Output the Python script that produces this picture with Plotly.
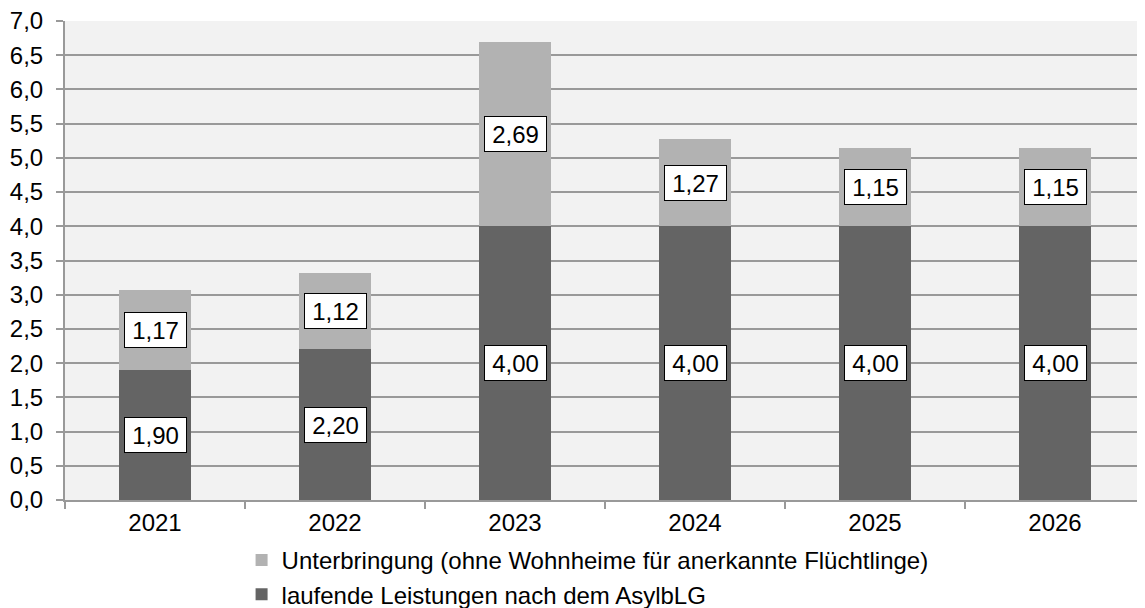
import plotly.graph_objects as go

years = ["2021", "2022", "2023", "2024", "2025", "2026"]
laufende = [1.90, 2.20, 4.00, 4.00, 4.00, 4.00]
unterbringung = [1.17, 1.12, 2.69, 1.27, 1.15, 1.15]
name_laufende = "laufende Leistungen nach dem AsylbLG"
name_unterbringung = "Unterbringung (ohne Wohnheime für anerkannte Flüchtlinge)"

DARK = "#646464"
LIGHT = "#b2b2b2"
GRID = "#999999"
FONT = "Liberation Sans, Arial, sans-serif"
FS = 24

def fmt(v):
    return f"{v:.2f}".replace(".", ",")

fig = go.Figure()
fig.add_trace(go.Bar(x=years, y=laufende, name=name_laufende, legendgroup="a",
                     marker=dict(color=DARK, line=dict(width=0))))
fig.add_trace(go.Bar(x=years, y=unterbringung, name=name_unterbringung, legendgroup="b",
                     marker=dict(color=LIGHT, line=dict(width=0))))

annotations = []
for i, (a, b) in enumerate(zip(laufende, unterbringung)):
    for val, center in ((a, a / 2), (b, a + b / 2)):
        annotations.append(dict(
            x=i, y=center, xref="x", yref="y", text=fmt(val), showarrow=False,
            font=dict(family=FONT, size=FS, color="black"),
            bgcolor="white", bordercolor="black", borderwidth=1, borderpad=1,
            width=59, height=32))

fig.update_layout(
    width=1145, height=608,
    barmode="stack", bargap=0.6,
    paper_bgcolor="white", plot_bgcolor="#f2f2f2",
    margin=dict(l=57, r=8, t=13, b=116, autoexpand=False),
    font=dict(family=FONT, size=FS, color="black"),
    separators=",.",
    showlegend=True,
    legend=dict(orientation="v", traceorder="reversed", x=0.1635, y=-0.079,
                xanchor="left", yanchor="top", bgcolor="rgba(0,0,0,0)",
                tracegroupgap=3,
                font=dict(family=FONT, size=FS, color="black")),
    annotations=annotations,
)
fig.update_xaxes(type="category", range=[-0.5, 5.5], showgrid=False, showline=True,
                 linecolor=GRID, linewidth=2, ticks="outside", tickson="boundaries",
                 ticklen=7, tickcolor=GRID, tickwidth=2, tickangle=0, automargin=False,
                 tickfont=dict(family=FONT, size=FS, color="black"))
fig.update_yaxes(range=[0, 7], dtick=0.5, tick0=0, tickformat=".1f",
                 showgrid=True, gridcolor=GRID, gridwidth=2, zeroline=False,
                 showline=True, linecolor=GRID, linewidth=2, automargin=False,
                 ticks="outside", ticklen=7, tickcolor=GRID, tickwidth=2,
                 ticklabelstandoff=8, ticklabeloverflow="allow",
                 tickfont=dict(family=FONT, size=FS, color="black"))

fig.write_html("out.html")
